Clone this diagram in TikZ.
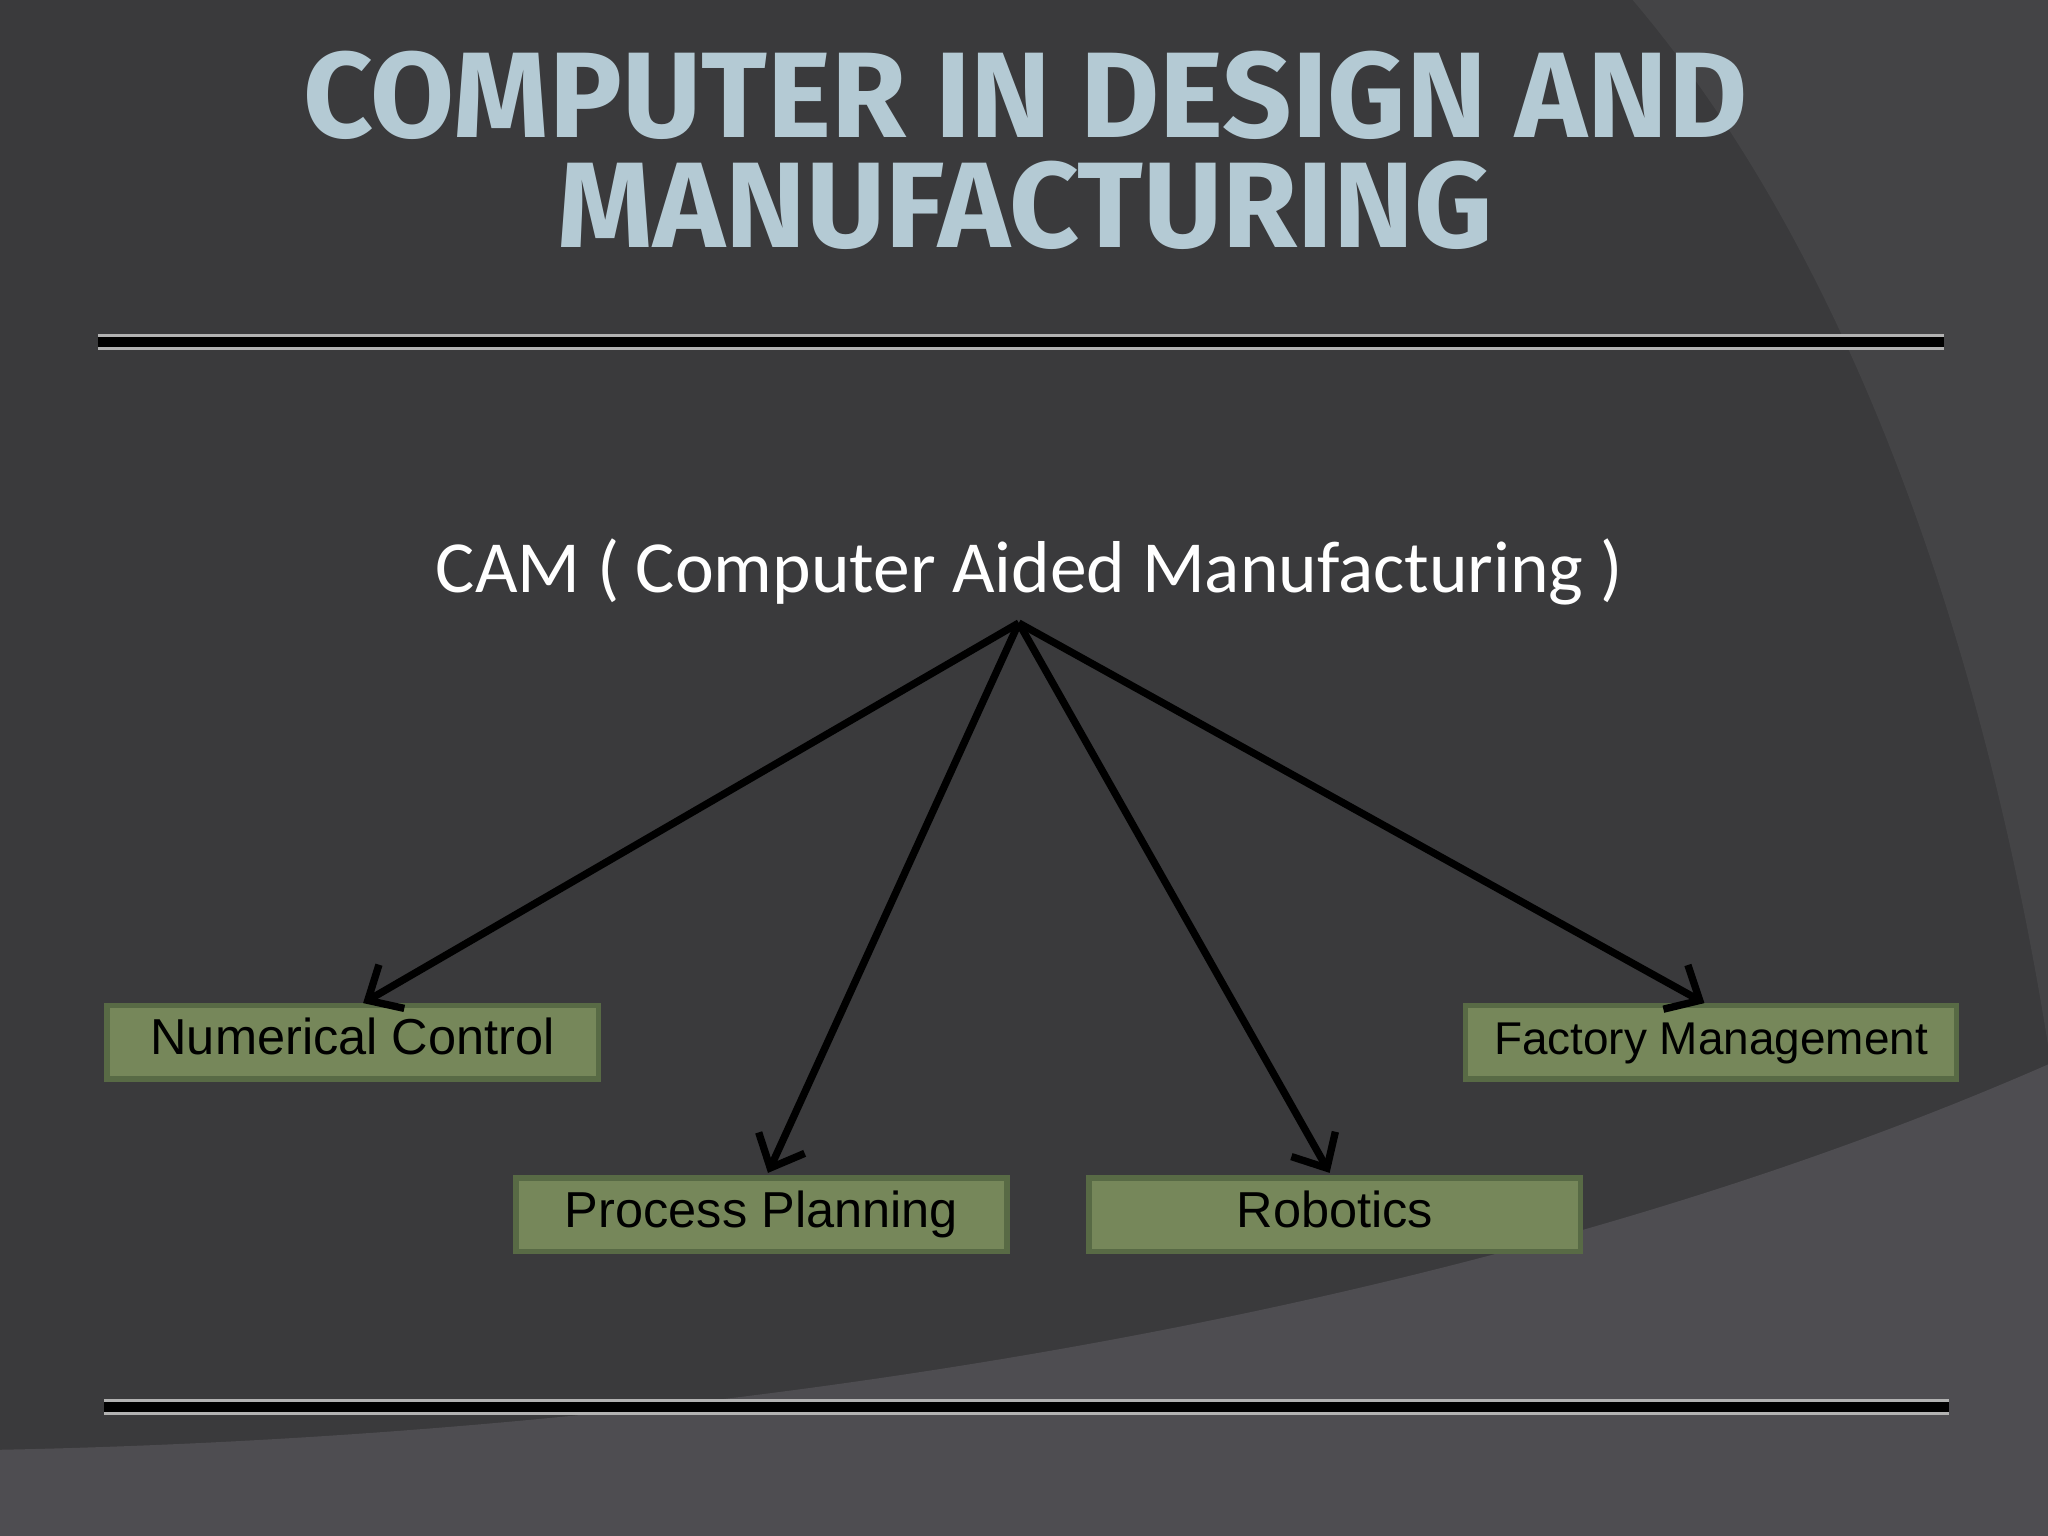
\documentclass[tikz,border=0pt]{standalone}
\usepackage{fontspec}
\setmainfont{Liberation Sans}
\newfontfamily\titlefont{Fira Sans}
\newfontfamily\camfont{Carlito}
\definecolor{bg}{HTML}{3A3A3C}
\definecolor{bgl}{HTML}{444446}
\definecolor{bgb}{HTML}{4E4D51}
\definecolor{boxg}{HTML}{76875A}
\definecolor{boxb}{HTML}{586A45}
\definecolor{ttl}{HTML}{B4CAD4}
\tikzset{
  leaf/.style={draw=boxb,line width=1.2pt,fill=boxg,minimum width=3.76cm,minimum height=0.56cm,inner sep=0pt,text height=8pt,text depth=2.5pt,font=\fontsize{11pt}{12pt}\selectfont,text=black},
  arr/.style={-{Straight Barb[length=6pt,width=11pt]},line width=1.6pt,black}
}
\usetikzlibrary{arrows.meta}
\begin{document}
\begin{tikzpicture}[x=0.01cm,y=-0.01cm]
\useasboundingbox (0,0) rectangle (1568,1176);
\fill[bg] (0,0) rectangle (1568,1176);
\fill[bgl] (1250,0) .. controls (1420,200) and (1520,500) .. (1568,800) -- (1568,0) -- cycle;
\fill[bgb] (0,1110) .. controls (500,1100) and (1100,1020) .. (1568,815) -- (1568,1176) -- (0,1176) -- cycle;
\node[font=\titlefont\bfseries\fontsize{26.5pt}{28pt}\selectfont,text=ttl,align=center] (title) at (785,115) {COMPUTER IN DESIGN AND\\[-4pt]MANUFACTURING};
\draw[line width=3.5pt,gray!60] (75,262) -- (1488,262);
\draw[line width=2.2pt,black] (75,262) -- (1488,262);
\draw[line width=3.5pt,gray!60] (80,1077) -- (1492,1077);
\draw[line width=2.2pt,black] (80,1077) -- (1492,1077);
\node[font=\camfont\fontsize{16pt}{18pt}\selectfont,text=white] (cam) at (788,438) {CAM ( Computer Aided Manufacturing )};
\coordinate (src) at (780,477);
\node[leaf] (nc) at (270,798) {Numerical Control};
\node[leaf] (pp) at (583,930) {Process Planning};
\node[leaf] (rb) at (1022,930) {Robotics};
\node[leaf,font=\fontsize{10pt}{12pt}\selectfont] (fm) at (1310,798) {Factory Management};
\coordinate (tnc) at (278,768);
\coordinate (tpp) at (588,898);
\coordinate (trb) at (1018,898);
\coordinate (tfm) at (1305,768);
\draw[arr] (src) -- (tnc);
\draw[arr] (src) -- (tpp);
\draw[arr] (src) -- (trb);
\draw[arr] (src) -- (tfm);
\end{tikzpicture}
\end{document}
